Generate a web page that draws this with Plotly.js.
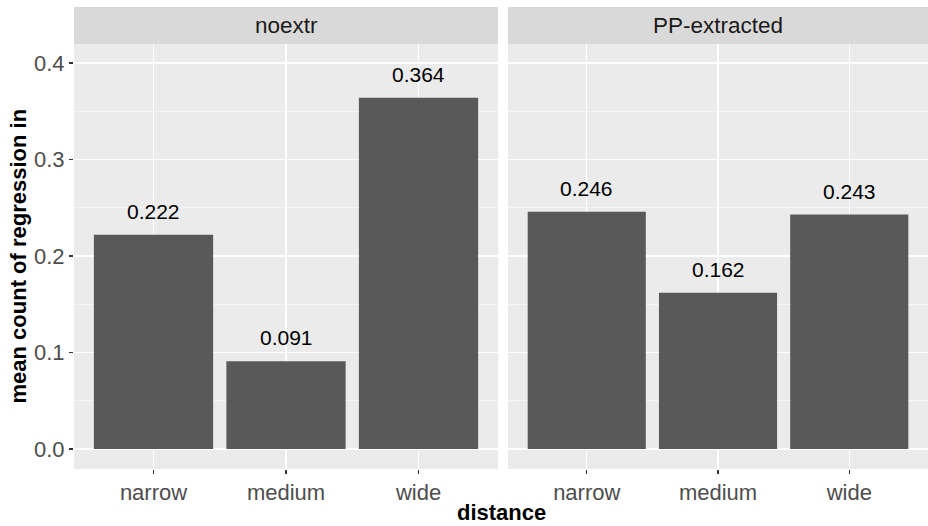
<!DOCTYPE html>
<html>
<head>
<meta charset="utf-8">
<script src="https://cdn.plot.ly/plotly-3.0.1.min.js"></script>
<style>html,body{margin:0;padding:0;background:#fff;}#chart{width:928px;height:526px;}</style>
</head>
<body>
<div id="chart"></div>
<script>
const facets = ["noextr", "PP-extracted"];
const categories = ["narrow", "medium", "wide"];
const valuesNoextr = [0.222, 0.091, 0.364];
const valuesPP = [0.246, 0.162, 0.243];
const yTickVals = [0.0, 0.1, 0.2, 0.3, 0.4];
const yTickText = ["0.0", "0.1", "0.2", "0.3", "0.4"];

const FONT = "Liberation Sans, Arial, sans-serif";
const xpos = categories.map((c, i) => i + 1);
const series = [valuesNoextr, valuesPP];

const traces = series.map((vals, k) => ({
  type: "bar",
  x: xpos,
  y: vals,
  width: 0.9,
  marker: {color: "#595959", line: {width: 0}},
  xaxis: k === 0 ? "x" : "x2",
  yaxis: k === 0 ? "y" : "y2",
  hoverinfo: "skip",
  showlegend: false
}));

const annotations = [];
series.forEach((vals, k) => {
  vals.forEach((v, i) => {
    annotations.push({
      x: xpos[i], y: v,
      xref: k === 0 ? "x" : "x2", yref: k === 0 ? "y" : "y2",
      text: v.toFixed(3), showarrow: false,
      yanchor: "bottom", yshift: 10,
      font: {family: FONT, size: 21, color: "#000000"}
    });
  });
});
const doms = [[0, 0.4965], [0.5082, 1]];
const shapes = [];
facets.forEach((f, k) => {
  shapes.push({type: "rect", xref: "paper", yref: "paper",
    x0: doms[k][0], x1: doms[k][1], y0: 1, y1: 1 + 37/425,
    fillcolor: "#D9D9D9", line: {width: 0}, layer: "below"});
  annotations.push({xref: "paper", yref: "paper",
    x: (doms[k][0] + doms[k][1]) / 2, y: 1 + 18.5/425,
    text: f, showarrow: false, xanchor: "center", yanchor: "middle",
    font: {family: FONT, size: 22.5, color: "#1A1A1A"}});
});
annotations.push({xref: "paper", yref: "paper", x: -56/854, y: 0.5,
  text: "<b>mean count of regression in</b>", textangle: -90, showarrow: false,
  xanchor: "center", yanchor: "middle",
  font: {family: FONT, size: 22, color: "#000000"}});
annotations.push({xref: "paper", yref: "paper", x: 0.5, y: -57 / 425,
  text: "<b>distance</b>", showarrow: false, xanchor: "center", yanchor: "bottom",
  borderpad: 0,
  font: {family: FONT, size: 22, color: "#000000"}});

const xBase = {
  range: [0.4, 3.6], tickvals: xpos, ticktext: categories,
  showgrid: true, gridcolor: "#FFFFFF", gridwidth: 1.1,
  zeroline: false, showline: false,
  ticks: "outside", ticklen: 4, tickwidth: 1.1, tickcolor: "#333333",
  tickfont: {family: FONT, size: 22, color: "#4D4D4D"},
  fixedrange: true
};
const yBase = {
  range: [-0.0207, 0.4197], tickvals: yTickVals, ticktext: yTickText,
  showgrid: true, gridcolor: "#FFFFFF", gridwidth: 1.1,
  minor: {dtick: 0.05, tick0: 0.05, showgrid: true, gridcolor: "#FFFFFF", gridwidth: 0.55, ticks: ""},
  zeroline: false, showline: false,
  tickfont: {family: FONT, size: 22, color: "#4D4D4D"},
  fixedrange: true
};

const layout = {
  width: 928, height: 526,
  margin: {l: 74, r: 0, t: 44, b: 57, pad: 0},
  paper_bgcolor: "#FFFFFF", plot_bgcolor: "#EBEBEB",
  showlegend: false,
  xaxis: Object.assign({}, xBase, {domain: doms[0], anchor: "y"}),
  xaxis2: Object.assign({}, xBase, {domain: doms[1], anchor: "y2"}),
  yaxis: Object.assign({}, yBase, {anchor: "x", ticks: "outside", ticklen: 4, tickwidth: 1.1, tickcolor: "#333333"}),
  yaxis2: Object.assign({}, yBase, {anchor: "x2", matches: "y", showticklabels: false, ticks: ""}),
  shapes: shapes,
  annotations: annotations
};

Plotly.newPlot("chart", traces, layout, {staticPlot: true, displayModeBar: false});
</script>
</body>
</html>
